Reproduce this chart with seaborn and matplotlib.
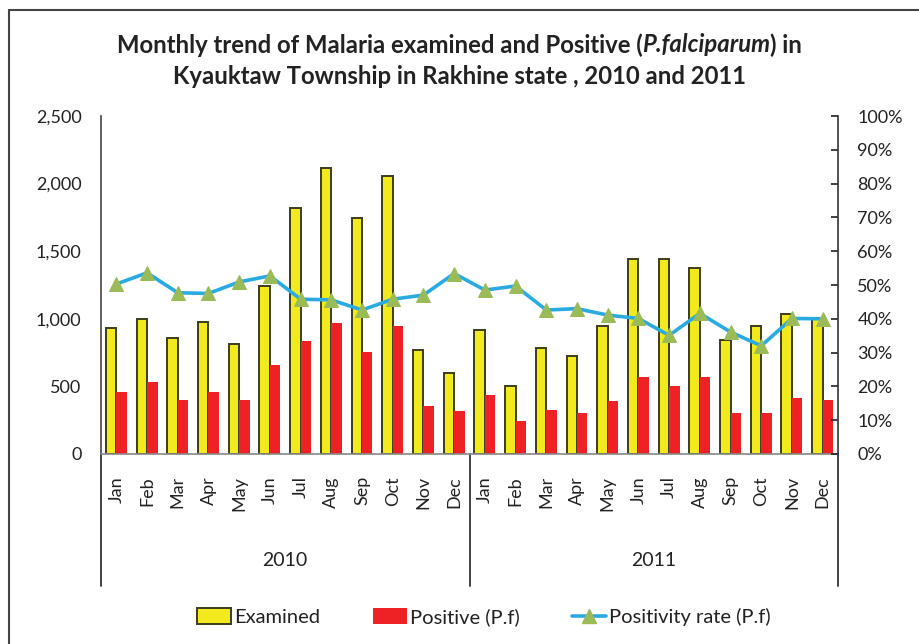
import numpy as np
import pandas as pd
import matplotlib
matplotlib.use("Agg")
import matplotlib.pyplot as plt
import seaborn as sns
from matplotlib.patches import Patch
from matplotlib.lines import Line2D
from matplotlib.ticker import FuncFormatter, PercentFormatter

months = ["Jan", "Feb", "Mar", "Apr", "May", "Jun", "Jul", "Aug", "Sep", "Oct", "Nov", "Dec"]
years = ["2010", "2011"]

examined_2010 = [930, 1000, 860, 980, 810, 1240, 1820, 2115, 1745, 2056, 770, 600]
examined_2011 = [915, 505, 785, 725, 950, 1445, 1445, 1375, 845, 950, 1035, 995]
positive_2010 = [460, 535, 400, 460, 400, 660, 835, 970, 755, 945, 355, 320]
positive_2011 = [440, 245, 325, 305, 390, 570, 500, 570, 305, 305, 415, 400]
rate_2010 = [50.3, 53.6, 47.7, 47.5, 50.9, 52.7, 45.8, 45.6, 42.6, 45.8, 47.0, 53.4]
rate_2011 = [48.5, 49.7, 42.6, 43.0, 41.1, 40.1, 35.1, 41.6, 36.1, 32.0, 40.1, 40.0]

YELLOW = "#F2EA1C"
RED = "#EE2224"
BLUE = "#29ABE2"
GREEN = "#9BBB59"
TXT = "#222222"

sns.set_style("white")
plt.rcParams["font.family"] = ["Lato", "DejaVu Sans"]

cats = [f"{m} {y}" for y in years for m in months]
df = pd.DataFrame({
    "cat": cats * 2,
    "value": examined_2010 + examined_2011 + positive_2010 + positive_2011,
    "series": ["Examined"] * 24 + ["Positive (P.f)"] * 24,
})
rate = rate_2010 + rate_2011

fig = plt.figure(figsize=(9.19, 6.44), dpi=100)
ax = fig.add_axes([101 / 919, 1 - 454 / 644, (838 - 101) / 919, (454 - 116) / 644])

sns.barplot(data=df, x="cat", y="value", hue="series", order=cats,
            palette=[YELLOW, RED], width=0.68, gap=0, ax=ax, legend=False,
            saturation=1, edgecolor="#3C3C1E", linewidth=1.4)
n = len(cats)
for i, p in enumerate(ax.patches):
    if i >= n:
        p.set_linewidth(0)

ax.set_ylim(0, 2500)
ax.set_xlim(-0.5, n - 0.5)
ax.set_yticks(range(0, 2501, 500))
ax.yaxis.set_major_formatter(FuncFormatter(lambda v, _: f"{int(v):,}"))
ax.set_xticks(range(n))
ax.set_xticklabels(months * 2, rotation=90)
ax.tick_params(axis="y", length=0, pad=14, labelsize=13, colors=TXT)
ax.tick_params(axis="x", length=0, pad=16, labelsize=13, colors=TXT)
ax.set_xlabel("")
ax.set_ylabel("")
for s in ["top", "right"]:
    ax.spines[s].set_visible(False)
ax.spines["left"].set_color("#444444")
ax.spines["bottom"].set_color("#888888")
ax.spines["left"].set_linewidth(1.2)
ax.spines["bottom"].set_linewidth(1.2)

ax2 = ax.twinx()
sns.lineplot(x=list(range(n)), y=rate, ax=ax2, color=BLUE, linewidth=2.6,
             marker="^", markersize=10, markerfacecolor=GREEN,
             markeredgecolor=GREEN, sort=False)
ax2.set_ylim(0, 100)
ax2.set_yticks(range(0, 101, 10))
ax2.yaxis.set_major_formatter(PercentFormatter(decimals=0))
ax2.tick_params(axis="y", direction="in", length=5, width=1.2, pad=14,
                labelsize=13, colors=TXT)
ax2.set_ylabel("")
for s in ["top", "left", "bottom"]:
    ax2.spines[s].set_visible(False)
ax2.spines["right"].set_color("#333333")
ax2.spines["right"].set_linewidth(1.2)

# year group separators and labels
depth = (586 - 454) / 338
for xf in [0, 0.5, 1]:
    ax.plot([xf, xf], [0, -depth], transform=ax.transAxes, color="#333333",
            lw=1.3, clip_on=False)
for xf, yr in zip([0.25, 0.75], years):
    ax.text(xf, -(560 - 454) / 338, yr, transform=ax.transAxes, ha="center",
            va="center", fontsize=14, color=TXT)

# title, first line built from pieces so the species name can be italic
title_fs = 17.2
renderer = fig.canvas.get_renderer()
pieces = [("Monthly trend of Malaria examined and Positive (", "normal"),
          ("P.falciparum", "italic"),
          (") in", "normal")]
texts = []
for s, style in pieces:
    t = fig.text(0, 1 - 45 / 644, s, ha="left", va="center", fontsize=title_fs,
                 fontweight="bold", fontstyle=style, color=TXT)
    texts.append(t)
widths = [t.get_window_extent(renderer).width for t in texts]
x0 = (919 - sum(widths)) / 2
for t, w in zip(texts, widths):
    t.set_x(x0 / 919)
    x0 += w
fig.text(0.5, 1 - 76 / 644,
         "Kyauktaw Township in Rakhine state , 2010 and 2011",
         ha="center", va="center", fontsize=title_fs, fontweight="bold", color=TXT)

# outer frame (left and top edges visible)
fig.add_artist(Line2D([9 / 919, 9 / 919], [0, 1 - 10 / 644], color="#444444", lw=1.5))
fig.add_artist(Line2D([9 / 919, 1], [1 - 10 / 644, 1 - 10 / 644], color="#444444", lw=1.5))

handles = [
    Patch(facecolor=YELLOW, edgecolor="#3C3C1E", linewidth=1.4, label="Examined"),
    Patch(facecolor=RED, edgecolor="none", label="Positive (P.f)"),
    Line2D([], [], color=BLUE, lw=2.6, marker="^", markersize=10,
           markerfacecolor=GREEN, markeredgecolor=GREEN, label="Positivity rate (P.f)"),
]
fig.legend(handles=handles, loc="center", bbox_to_anchor=(484 / 919, 1 - 617 / 644),
           ncol=3, frameon=False, fontsize=14.5, handlelength=1.7,
           handleheight=0.8, handletextpad=0.15, columnspacing=2.6,
           labelcolor=TXT)

fig.savefig("out.png", dpi=100)
